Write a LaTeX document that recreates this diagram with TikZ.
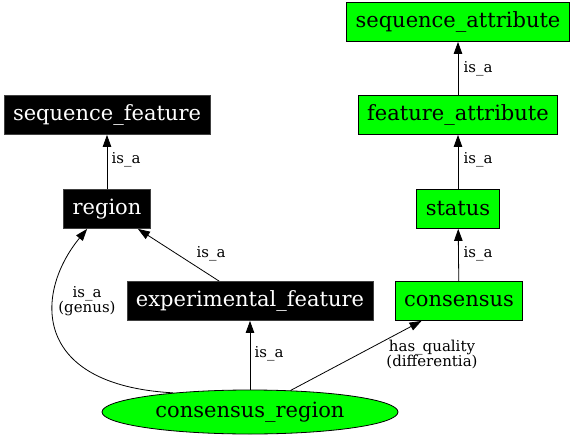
\documentclass[tikz,border=0pt]{standalone}
\usepackage{fontspec}
\setmainfont{DejaVu Serif}
\usetikzlibrary{arrows.meta,shapes.geometric}
\definecolor{so_green}{RGB}{0, 255, 0}
\tikzstyle{gn}=[rectangle,fill=so_green,draw=black,line width=0.8pt,
  inner xsep=9pt,minimum height=39pt,font=\fontsize{21}{24}\selectfont]
\tikzstyle{bn}=[rectangle,fill=black,draw=black!75,text=white,line width=0.8pt,
  inner xsep=9pt,minimum height=39pt,font=\fontsize{21}{24}\selectfont]
\tikzstyle{ge}=[ellipse,fill=so_green,draw=black,line width=0.8pt,inner sep=0pt,
  minimum width=296pt,minimum height=44pt,font=\fontsize{21}{24}\selectfont]
\tikzstyle{lab}=[align=center,inner sep=0pt,font=\fontsize{15}{15}\selectfont]
\tikzstyle{isa}=[-{Triangle[length=12pt,width=8.5pt]},line width=0.8pt]

\begin{document}
\begin{tikzpicture}[x=1pt,y=-1pt]
        \useasboundingbox (0,0) rectangle (576,439);
        \node [style=gn] (0) at (458,22) {sequence\_attribute};
        \node [style=gn] (1) at (458,115) {feature\_attribute};
        \node [style=gn] (2) at (458,209) {status};
        \node [style=gn] (3) at (459,301) {consensus};
        \node [style=bn] (4) at (107,115) {sequence\_feature};
        \node [style=bn] (5) at (107,209) {region};
        \node [style=bn] (6) at (250,301) {experimental\_feature};
        \node [style=ge] (7) at (250,412) {consensus\_region};
        \node [style=lab] (8) at (478,69) {is\_a};
        \node [style=lab] (9) at (478,160) {is\_a};
        \node [style=lab] (10) at (478,254) {is\_a};
        \node [style=lab] (11) at (126,160) {is\_a};
        \node [style=lab] (12) at (211,254) {is\_a};
        \node [style=lab] (13) at (269,354) {is\_a};
        \node [style=lab] (14) at (87,301) {is\_a\\(genus)};
        \node [style=lab] (15) at (432,354) {has\_quality\\(differentia)};
        \draw [style=isa] (1) to (0);
        \draw [style=isa] (2) to (1);
        \draw [style=isa] (3) to (2);
        \draw [style=isa] (5) to (4);
        \draw [style=isa] (6) to (5);
        \draw [style=isa] (7) to (6);
        \draw [style=isa] (7) to (3);
        \draw [style=isa] (7.166) .. controls (30,385) and (35,292) .. (5.-135);
    \end{tikzpicture}
\end{document}
